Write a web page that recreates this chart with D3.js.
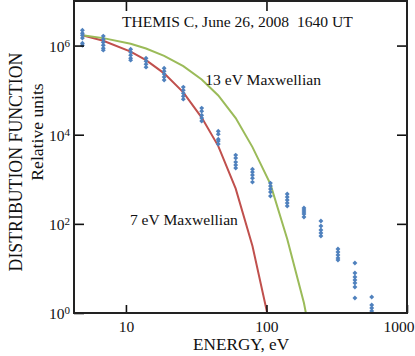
<!DOCTYPE html>
<html>
<head>
<meta charset="UTF-8">
<title>THEMIS C distribution function</title>
<script src="https://d3js.org/d3.v7.min.js"></script>
<style>
  body { margin: 0; background: #fff; }
  text { font-family: "Liberation Serif", "Times New Roman", serif; fill: #111; }
</style>
</head>
<body>
<div id="chart"></div>
<script>
// energy channels (eV)
var energies = [4.9, 6.9, 10.8, 13.9, 18.7, 25.6, 34.6, 45.4, 60.4, 79.5, 106.7, 140.5, 184.8, 244, 322.6, 426, 561];

// measured values at each energy (several spins)
var measured = [
  [2.21e6, 1.90e6, 1.71e6, 1.47e6, 1.13e6, 1.02e6],
  [1.63e6, 1.39e6, 1.19e6, 1.02e6, 8.75e5, 7.89e5],
  [8.3e5, 7.11e5, 6.09e5, 5.22e5, 4.71e5],
  [5.2e5, 4.47e5, 3.83e5, 3.28e5],
  [3.11e5, 2.67e5, 2.29e5, 1.96e5, 1.68e5],
  [1.17e5, 1.0e5, 8.57e4, 7.33e4, 6.28e4],
  [3.95e4, 3.38e4, 2.75e4, 2.36e4, 2.02e4],
  [1.20e4, 1.03e4, 7.96e3, 7.19e3, 6.15e3],
  [3.49e3, 2.99e3, 2.43e3, 2.08e3, 1.78e3],
  [1690, 1450, 1240, 1060, 865],
  [822, 704, 603, 516, 420],
  [466, 399, 342, 293, 251],
  [226, 204, 184, 166, 142],
  [116, 89.3, 72.7, 62.2, 53.3],
  [27.2, 23.3, 20.0, 17.1, 15.4],
  [13.2, 7.88, 6.41, 5.49, 4.71, 3.83, 2.17],
  [2.28, 1.51, 1.29, 1.11]
];

// Maxwellian curves at the same energies
var maxwell7 = [1.71e6, 1.28e6, 7.3e5, 4.71e5, 2.38e5, 8.9e4, 2.42e4, 5.55e3, 618, 31.8, 0.47];
var maxwell13 = [1.71e6, 1.47e6, 1.10e6, 8.57e5, 5.9e5, 3.45e5, 1.74e5, 7.6e4, 2.36e4, 5270, 780, 45.6, 1.68, 0.018];

var xTicks = [10, 100, 1000];
var yTickExp = [0, 2, 4, 6];

var W = 415, H = 356;
var margin = {top: 1, right: 8, bottom: 43, left: 74};
var width = W - margin.left - margin.right,
    height = H - margin.top - margin.bottom;

var svg = d3.select("#chart").append("svg")
    .attr("width", W)
    .attr("height", H);

var g = svg.append("g")
    .attr("transform", "translate(" + margin.left + "," + margin.top + ")");

var x = d3.scaleLog().domain([4.27, 1000]).range([0, width]);
var y = d3.scaleLog().domain([1, 1e7]).range([height, 0]);

g.append("clipPath").attr("id", "plotclip")
  .append("rect").attr("width", width).attr("height", height);

// curves
var line = d3.line()
    .x(function(d) { return x(d[0]); })
    .y(function(d) { return y(d[1]); });

var curves = [
  {vals: maxwell7, color: "#c0504d"},
  {vals: maxwell13, color: "#9bbb59"}
];
curves.forEach(function(c) {
  var pts = c.vals.map(function(v, i) { return [energies[i], v]; });
  g.append("path")
    .datum(pts)
    .attr("clip-path", "url(#plotclip)")
    .attr("fill", "none")
    .attr("stroke", c.color)
    .attr("stroke-width", 2)
    .attr("d", line);
});

// points
var pts = [];
measured.forEach(function(arr, i) {
  arr.forEach(function(v) { pts.push([energies[i], v]); });
});
g.append("g")
  .selectAll("path")
  .data(pts)
  .enter().append("path")
    .attr("d", d3.symbol().type(d3.symbolSquare).size(12))
    .attr("fill", "#4f81bd")
    .attr("transform", function(d) {
      return "translate(" + x(d[0]) + "," + y(d[1]) + ") rotate(45)";
    });

// axes with inward ticks
var xb = g.append("g")
    .attr("transform", "translate(0," + height + ")")
    .call(d3.axisBottom(x).tickValues(xTicks).tickSize(-8).tickPadding(8)
      .tickFormat(d3.format("d")));
xb.selectAll("text").style("font-size", "15.5px").attr("fill", "#111");
xb.selectAll("text").filter(function(d) { return d === 1000; }).attr("dx", "-0.55em");

g.append("g")
  .call(d3.axisTop(x).tickValues(xTicks.slice(0, 2)).tickSize(-10).tickFormat(""));

var yl = g.append("g")
  .call(d3.axisLeft(y).tickValues(yTickExp.map(function(e) { return Math.pow(10, e); }))
    .tickSize(-10).tickPadding(4).tickFormat(""));
yl.selectAll(".tick").append("text")
  .attr("x", -4)
  .attr("dy", "0.38em")
  .attr("text-anchor", "end")
  .style("font-size", "15.5px")
  .each(function(d) {
    var t = d3.select(this);
    t.append("tspan").text("10");
    t.append("tspan").attr("dy", "-0.45em").style("font-size", "11px")
      .text(Math.round(Math.log10(d)));
  });

g.append("g")
  .attr("transform", "translate(" + width + ",0)")
  .call(d3.axisRight(y).tickValues([1e2, 1e4, 1e6]).tickSize(-10).tickFormat(""));

g.selectAll(".domain").remove();
g.selectAll(".tick line").attr("stroke", "#111").attr("stroke-width", 1.6);

// frame
g.append("rect")
  .attr("width", width).attr("height", height)
  .attr("fill", "none").attr("stroke", "#222").attr("stroke-width", 2);

// labels
g.append("text")
  .attr("x", x(10) - 4).attr("y", 26)
  .style("font-size", "15.6px").style("white-space", "pre")
  .text("THEMIS C, June 26, 2008  1640 UT");

g.append("text")
  .attr("x", x(140.5) - 82).attr("y", y(1e5) - 5)
  .style("font-size", "15.6px")
  .text("13 eV Maxwellian");

g.append("text")
  .attr("x", x(10) + 4).attr("y", y(100) + 1.5)
  .style("font-size", "15.6px")
  .text("7 eV Maxwellian");

svg.append("text")
  .attr("x", margin.left + x(66)).attr("y", 350)
  .attr("text-anchor", "middle")
  .style("font-size", "17.2px")
  .text("ENERGY, eV");

svg.append("text")
  .attr("transform", "translate(22,162) rotate(-90)")
  .attr("text-anchor", "middle")
  .style("font-size", "17.8px")
  .text("DISTRIBUTION FUNCTION");

svg.append("text")
  .attr("transform", "translate(43,132) rotate(-90)")
  .attr("text-anchor", "middle")
  .style("font-size", "17.6px")
  .text("Relative units");
</script>
</body>
</html>
